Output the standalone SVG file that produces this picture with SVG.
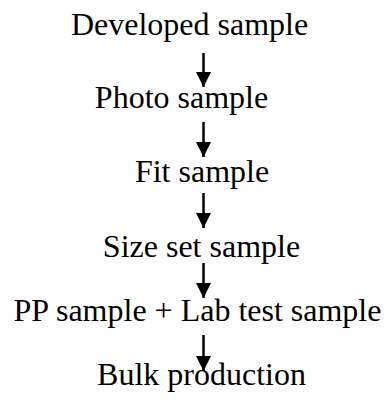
<svg xmlns="http://www.w3.org/2000/svg" width="387" height="400" viewBox="0 0 387 400">
<style>
text{font-family:"Liberation Serif","Times New Roman",serif;font-size:32px;fill:#000;text-anchor:middle}
.c line{stroke:#000;stroke-width:2.5}
</style>
<defs>
<marker id="ah" markerWidth="6" markerHeight="6" refX="6" refY="3" orient="auto" markerUnits="strokeWidth">
<path d="M0,0 L6,3 L0,6 Z" fill="#000"/>
</marker>
</defs>
<rect width="387" height="400" fill="#fff"/>
<g id="n1"><text x="189.5" y="35">Developed sample</text></g>
<g id="n2"><text x="181.5" y="108">Photo sample</text></g>
<g id="n3"><text x="202" y="182">Fit sample</text></g>
<g id="n4"><text x="201.5" y="257">Size set sample</text></g>
<g id="n5"><text x="197.5" y="321">PP sample + Lab test sample</text></g>
<g id="n6"><text x="201.5" y="385">Bulk production</text></g>
<g class="c" id="connectors">
<line x1="203.5" y1="53" x2="203.5" y2="87" marker-end="url(#ah)"/>
<line x1="203.5" y1="122" x2="203.5" y2="157" marker-end="url(#ah)"/>
<line x1="203.5" y1="193" x2="203.5" y2="228" marker-end="url(#ah)"/>
<line x1="203.5" y1="263" x2="203.5" y2="298" marker-end="url(#ah)"/>
<line x1="203.5" y1="335" x2="203.5" y2="371" marker-end="url(#ah)"/>
</g>
</svg>
